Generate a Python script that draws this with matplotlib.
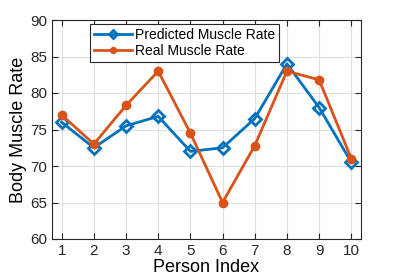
import matplotlib
matplotlib.use("Agg")
import matplotlib.pyplot as plt

plt.rcParams['font.family'] = ['Liberation Sans', 'DejaVu Sans']

kisi = [1, 2, 3, 4, 5, 6, 7, 8, 9, 10]
tahmin = [76.0, 72.5, 75.5, 76.8, 72.0, 72.5, 76.5, 84.0, 78.0, 70.5]
gercek = [77.0, 73.0, 78.3, 83.0, 74.5, 65.0, 72.8, 83.0, 81.8, 71.0]

fig = plt.figure(figsize=(3.99, 2.78), dpi=100)
ax = fig.add_axes([52/399, 1 - 239/278, 309/399, 219/278])

ax.plot(kisi, tahmin, color="#0072BD", lw=2, marker="D", ms=6, mfc="none", mew=2,
        label="Predicted Muscle Rate")
ax.plot(kisi, gercek, color="#D95319", lw=2, marker="o", ms=6,
        label="Real Muscle Rate")

ax.set_xlim(0.7, 10.3)
ax.set_ylim(60, 90)
ax.set_xticks(kisi)
ax.set_yticks([60, 65, 70, 75, 80, 85, 90])
ax.grid(True, color="#e0e0e0", lw=0.8)
ax.set_axisbelow(True)
ax.tick_params(direction="in", top=True, right=True, labelsize=11, colors="#262626", length=4)
for s in ax.spines.values():
    s.set_color("#262626")
    s.set_linewidth(0.8)
ax.set_xlabel("Person Index", fontsize=13, labelpad=1)
ax.set_ylabel("Body Muscle Rate", fontsize=13, labelpad=2)

leg = ax.legend(loc="upper left", bbox_to_anchor=(0.123, 0.982), fontsize=10,
                fancybox=False, framealpha=1, edgecolor="#262626",
                borderpad=0.3, handlelength=2.7, handletextpad=0.25,
                labelspacing=0.15, borderaxespad=0, markerscale=0.7)
leg.get_frame().set_linewidth(0.8)

fig.savefig("out.png", dpi=100)
